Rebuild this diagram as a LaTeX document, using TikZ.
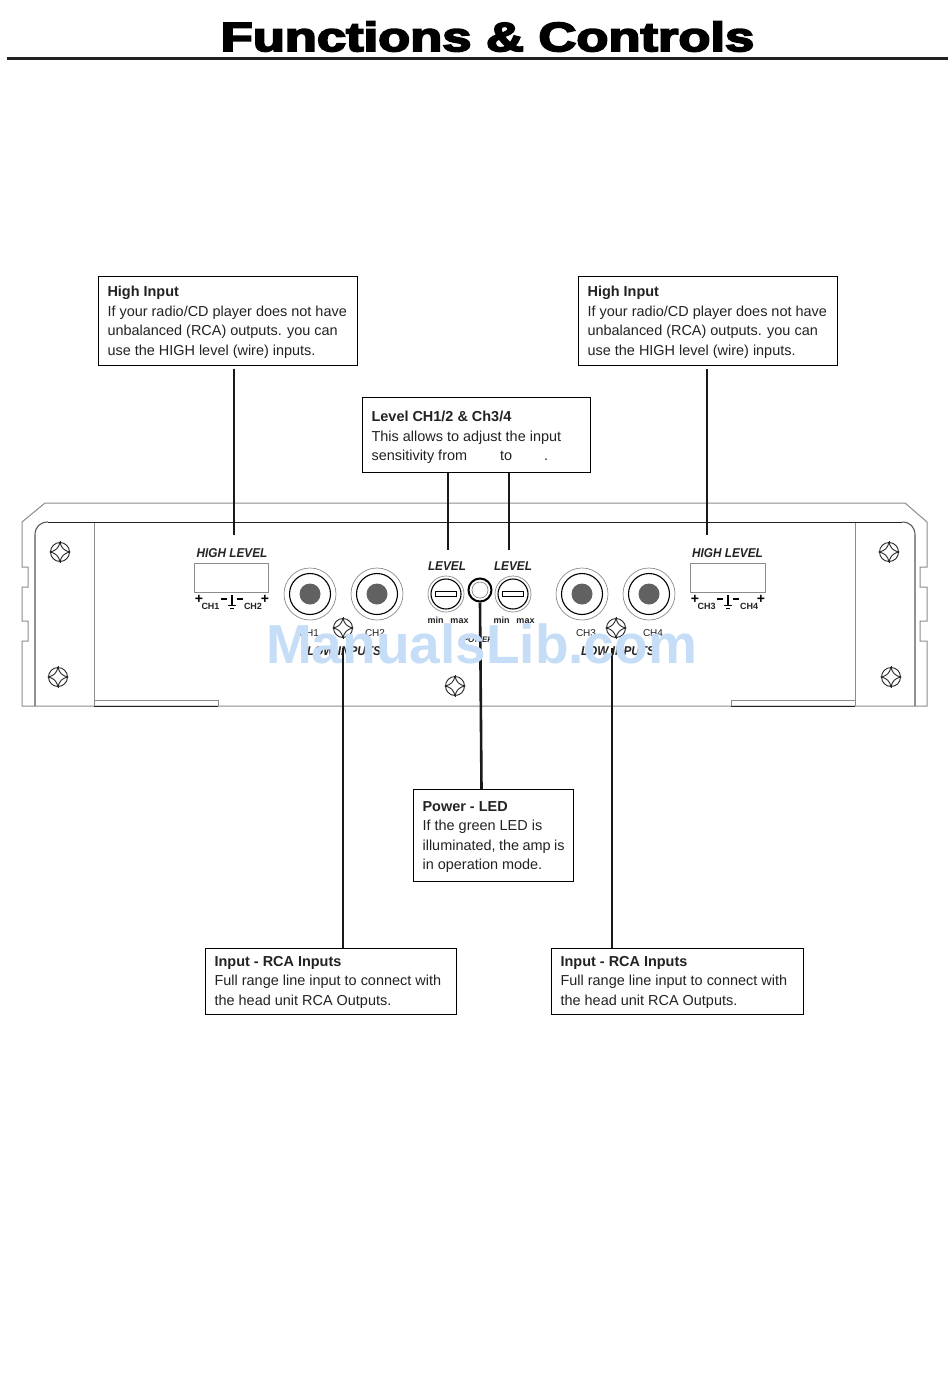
\documentclass[tikz,border=0pt]{standalone}
\usepackage{fontspec}
\setmainfont{Liberation Sans}
\newfontfamily\titlefont[FakeBold=4]{Liberation Sans Bold}
\definecolor{chassis}{HTML}{8C8C8C}
\definecolor{dark}{HTML}{222222}
\definecolor{wm}{HTML}{C6DDF7}
\newcommand{\calltext}[3]{\hspace*{9.5pt}\raisebox{-#3pt}[\height][\depth]{\parbox{#1}{#2}}\hspace*{8.5pt}}
\tikzset{
 callout/.style={draw=black,line width=0.8pt,fill=white,align=left,anchor=north west,inner sep=0pt,
   font=\fontsize{14.45}{19.5}\selectfont,text=dark},
 conn/.style={line width=2.6pt,draw=black!90},
 grayline/.style={draw=chassis,line width=1pt},
 darkline/.style={draw=dark,line width=1pt},
 midline/.style={draw=black!65,line width=1.1pt},
 panel/.style={font=\fontsize{12.8}{14}\selectfont\bfseries\itshape,text=dark,inner sep=0pt,xscale=0.92,transform shape},
 tiny/.style={font=\fontsize{10}{11}\selectfont,text=dark,inner sep=0pt,anchor=base},
 tinyb/.style={font=\fontsize{9}{10}\selectfont\bfseries,text=dark,inner sep=0pt,anchor=base},
 sign/.style={font=\fontsize{14}{14}\selectfont\bfseries,text=black,inner sep=0pt},
 screw/.pic={
   \draw[line width=0.9pt,draw=black!85] (0,0) circle[radius=9.5];
   \draw[line width=0.9pt,draw=black!85] (-9.5,0) .. controls (-4,-1.5) and (-1.5,-4) .. (0,-9.5)
     .. controls (1.5,-4) and (4,-1.5) .. (9.5,0)
     .. controls (4,1.5) and (1.5,4) .. (0,9.5)
     .. controls (-1.5,4) and (-4,1.5) .. (-9.5,0) -- cycle;
   \draw[line width=0.9pt,draw=black!85] (0,-11) -- (0,-8) (0,8) -- (0,11);
 },
 rca/.pic={
   \draw[draw=chassis,line width=0.7pt] (0,0) circle[radius=26];
   \draw[draw=black,line width=1.1pt] (0,0) circle[radius=20.5];
   \fill[fill=black!62] (0,0) circle[radius=10.5];
 },
 knob/.pic={
   \draw[draw=chassis,line width=0.7pt] (0,0) circle[radius=18];
   \draw[draw=black,line width=1.1pt] (0,0) circle[radius=15];
   \draw[draw=black,line width=0.9pt] (-10.5,-2.2) rectangle (10.5,2.2);
 },
}
\begin{document}
\begin{tikzpicture}[x=1pt,y=-1pt]
\useasboundingbox (0,0) rectangle (950,1397);
\fill[white] (0,0) rectangle (950,1397);
% title
\node[inner sep=0pt,text=black,xscale=1.28,yscale=1,transform shape] (title) at (487.5,36.5) {\titlefont\fontsize{41}{41}\selectfont Functions \& Controls};
\coordinate (ruleL) at (7,58.5);
\coordinate (ruleR) at (948,58.5);
\draw[line width=3pt,draw=dark] (ruleL) -- (ruleR);
% chassis
\draw[grayline] (22,706) -- (22,641) -- (28,641) -- (28,621) -- (22,621) -- (22,587) -- (28,587) -- (28,567) -- (22,567) -- (22,522) -- (45,503) -- (905,503) -- (927,522) -- (927,567) -- (920,567) -- (920,587) -- (927,587) -- (927,621) -- (920,621) -- (920,641) -- (927,641) -- (927,706) -- cycle;
\draw[grayline] (94,522) -- (94,706) (855,522) -- (855,706);
\draw[grayline] (94,700) -- (218,700) -- (218,706) (731,706) -- (731,700) -- (855,700);
\draw[midline] (35,706) -- (35,535) .. controls (35,527) and (40,522) .. (48,522);
\draw[midline] (902,522) .. controls (910,522) and (915,527) .. (915,535) -- (915,706);
\draw[darkline] (48,522) -- (902,522);
\draw[darkline] (94,706) -- (218,706) (731,706) -- (855,706);
% screws
\pic at (60,552) {screw}; \pic at (58,677) {screw};
\pic at (889,552) {screw}; \pic at (891,677) {screw};
\pic at (343,628) {screw}; \pic at (616,628) {screw};
\pic at (455,686) {screw};
% high level
\node[panel] (hl1) at (232,553) {HIGH LEVEL};
\node[panel] (hl2) at (727.5,553) {HIGH LEVEL};
\draw[grayline] (194,563) rectangle (268,592);
\draw[grayline] (690,563) rectangle (765,592);
\foreach \ox/\a/\b/\n in {0/CH1/CH2/a,496/CH3/CH4/b}{
 \begin{scope}[shift={(\ox,0)}]
 \node[sign] (p1\n) at (199,599.5) {+};
 \node[sign] (p2\n) at (265,599.5) {+};
 \node[tinyb] (l1\n) at (210.5,609) {\a};
 \node[tinyb] (l2\n) at (253,609) {\b};
 \draw[line width=1.4pt] (221,599) -- (227,599) (237,599) -- (243,599);
 \draw[line width=1.7pt] (232,595) -- (232,606);
 \draw[line width=1.8pt] (228,605.5) -- (236,605.5);
 \draw[line width=1.4pt] (230,608.5) -- (234,608.5);
 \end{scope}
}
% jacks and knobs
\pic at (310,594) {rca}; \pic at (377,594) {rca};
\pic at (582,594) {rca}; \pic at (649,594) {rca};
\pic at (446,594) {knob}; \pic at (513,594) {knob};
\node[circle,draw=black,line width=2pt,minimum size=23pt,inner sep=0pt] (led) at (480,590) {};
\draw[draw=chassis,line width=0.7pt] (480,590) circle[radius=8];
% panel labels
\node[panel] (lv1) at (447,566) {LEVEL};
\node[panel] (lv2) at (513,566) {LEVEL};
\node[tinyb] (mn1) at (435.5,623) {min};
\node[tinyb] (mx1) at (459.5,623) {max};
\node[tinyb] (mn2) at (501.5,623) {min};
\node[tinyb] (mx2) at (525.5,623) {max};
\node[tiny] (c1) at (309,636) {CH1};
\node[tiny] (c2) at (375,636) {CH2};
\node[tiny] (c3) at (586,636) {CH3};
\node[tiny] (c4) at (653,636) {CH4};
\node[panel] (li1) at (344,651) {LOW INPUTS};
\node[panel] (li2) at (618,651) {LOW INPUTS};
\node[tinyb,font=\fontsize{8}{9}\selectfont\bfseries\itshape] (pwlabel) at (478,642) {POWER};
% callouts
\node[callout,minimum width=259pt,minimum height=89pt] (b1) at (97.6,275.8) {\calltext{241pt}{\textbf{High Input}\\If your radio/CD player does not have\\unbalanced (RCA) outputs. you can\\use the HIGH level (wire) inputs.}{1.5}};
\node[callout,minimum width=259pt,minimum height=89pt] (b2) at (577.7,275.8) {\calltext{241pt}{\textbf{High Input}\\If your radio/CD player does not have\\unbalanced (RCA) outputs. you can\\use the HIGH level (wire) inputs.}{1.5}};
\node[callout,minimum width=228pt,minimum height=75pt] (b3) at (361.7,396.8) {\calltext{210pt}{\textbf{Level CH1/2 \& Ch3/4}\\This allows to adjust the input\\sensitivity from\hspace{33pt}to\hspace{32pt}.}{3}};
\node[callout,minimum width=160pt,minimum height=92pt] (b4) at (412.7,788.8) {\calltext{142pt}{\textbf{Power - LED}\\If the green LED is\\illuminated, the amp is\\in operation mode.}{2}};
\node[callout,minimum width=251pt,minimum height=66pt] (b5) at (204.7,947.8) {\calltext{233pt}{\textbf{Input - RCA Inputs}\\Full range line input to connect with\\the head unit RCA Outputs.}{1}};
\node[callout,minimum width=252pt,minimum height=66pt] (b6) at (550.7,947.8) {\calltext{234pt}{\textbf{Input - RCA Inputs}\\Full range line input to connect with\\the head unit RCA Outputs.}{1}};
% connectors
\coordinate (t1) at (234,535); \coordinate (t2) at (707,535);
\coordinate (t3) at (448,550); \coordinate (t4) at (509,550);
\coordinate (t5) at (343,648); \coordinate (t6) at (612,648);
\coordinate (t7) at (481.5,700);
\draw[conn] (t1 |- b1.south) ++(0,3) -- (t1);
\draw[conn] (t2 |- b2.south) ++(0,3) -- (t2);
\draw[conn] (t3 |- b3.south) -- (t3);
\draw[conn] (t4 |- b3.south) -- (t4);
\draw[conn] (t5) -- (t5 |- b5.north);
\draw[conn] (t6) -- (t6 |- b6.north);
\draw[conn] (led.south) -- (t7 |- b4.north);
% watermark
\node[inner sep=0pt,text=wm] (mark) at (481.5,644) {\fontsize{55}{55}\selectfont\bfseries ManualsLib.com};
\end{tikzpicture}
\end{document}
